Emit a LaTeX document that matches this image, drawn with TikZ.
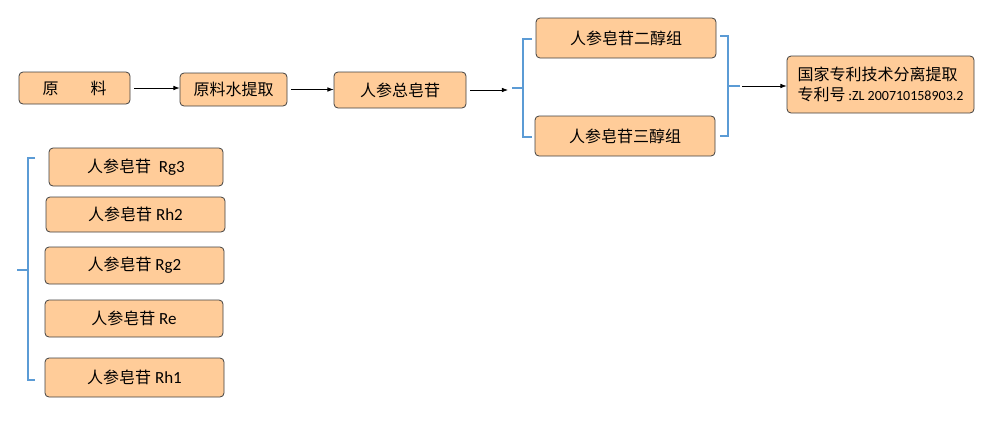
\documentclass[tikz,border=0pt]{standalone}
\usepackage{fontspec}
\setmainfont{Carlito}
\newfontfamily\cjk{Noto Sans CJK SC}
\usepackage{xcolor}
\usetikzlibrary{arrows.meta}

\definecolor{boxFill}{RGB}{255,204,153}
\definecolor{braceBlue}{RGB}{91,155,213}

\begin{document}
\begin{tikzpicture}[
    x=1pt, y=-1pt,
    font=\fontsize{17}{20}\selectfont,
    >=Latex,
    stage/.style={
        draw=black!75,
        line width=0.8pt,
        rounded corners=4pt,
        fill=boxFill,
        inner sep=0pt,
        align=center
    },
    flow/.style={
        ->,
        line width=0.7pt,
        shorten <=4pt
    },
    brace/.style={
        draw=braceBlue,
        line width=1.1pt
    }
]
\useasboundingbox (0,0) rectangle (990,434);

% Main line
\node[stage, minimum width=111pt, minimum height=32pt] (raw) at (74.5,88) {\cjk\fontsize{16}{20}\selectfont 原\hspace{2em}料};
\node[stage, minimum width=107pt, minimum height=33pt] (extract) at (233.5,89.5) {\cjk\fontsize{16}{20}\selectfont 原料水提取};
\node[stage, minimum width=132pt, minimum height=36pt] (total) at (400,90) {\cjk\fontsize{16}{20}\selectfont 人参总皂苷};

% Groups
\node[stage, minimum width=180pt, minimum height=40pt] (diol) at (626,38) {\cjk\fontsize{16}{20}\selectfont 人参皂苷二醇组};
\node[stage, minimum width=180pt, minimum height=40pt] (triol) at (625,136) {\cjk\fontsize{16}{20}\selectfont 人参皂苷三醇组};

\node[stage, minimum width=187pt, minimum height=57pt, align=left] (patent) at (880.5,84.5) {%
    {\cjk\fontsize{16}{20}\selectfont 国家专利技术分离提取}\\
    {\cjk\fontsize{16}{20}\selectfont 专利号}\,{\fontsize{14}{16}\selectfont :ZL 200710158903.2}};

% Single saponins
\node[stage, minimum width=174pt, minimum height=38pt] (rgThree) at (136,167) {{\cjk\fontsize{16}{20}\selectfont 人参皂苷}\ \ Rg3};
\node[stage, minimum width=179pt, minimum height=35pt] (rhTwo) at (135.5,214.5) {{\cjk\fontsize{16}{20}\selectfont 人参皂苷} Rh2};
\node[stage, minimum width=179pt, minimum height=37pt] (rgTwo) at (134.5,265.5) {{\cjk\fontsize{16}{20}\selectfont 人参皂苷} Rg2};
\node[stage, minimum width=178pt, minimum height=37pt] (re) at (134,318.5) {{\cjk\fontsize{16}{20}\selectfont 人参皂苷} Re};
\node[stage, minimum width=179pt, minimum height=39pt] (rhOne) at (134.5,377.5) {{\cjk\fontsize{16}{20}\selectfont 人参皂苷} Rh1};

% Arrows
\draw[flow] (raw.east) -- (raw.east -| extract.west);
\draw[flow] (extract.east) -- (extract.east -| total.west);

\coordinate (splitIn) at (512,88);
\coordinate (splitOut) at (740,86);
\draw[flow, shorten >=4pt] (total.east) -- (total.east -| splitIn);
\draw[flow, shorten <=2pt] (splitOut) -- (splitOut -| patent.west);

% Brackets
\draw[brace] (splitIn) -- (523,88);
\draw[brace] (532,39) -- (523,39) -- (523,137) -- (532,137);

\draw[brace] (720,36) -- (728,36) -- (728,136) -- (720,136);
\draw[brace] (728,86) -- (splitOut);

\coordinate (singleIn) at (17,270);
\draw[brace] (singleIn) -- (28,270);
\draw[brace] (35,158) -- (28,158) -- (28,380) -- (35,380);

\end{tikzpicture}
\end{document}
